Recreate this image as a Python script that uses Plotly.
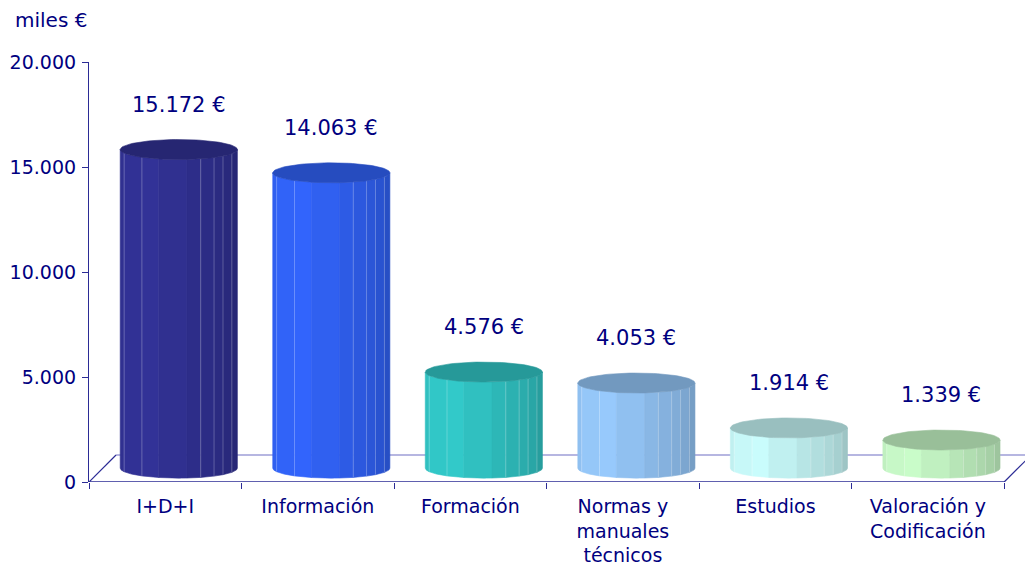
import numpy as np
import plotly.graph_objects as go

# ---------------- data ----------------
categories = ["I+D+I", "Información", "Formación", "Normas y<br>manuales<br>técnicos",
              "Estudios", "Valoración y<br>Codificación"]
values = [15172, 14063, 4576, 4053, 1914, 1339]
value_labels = [f"{v:,}".replace(",", ".") + " €" for v in values]
bar_colors = ["#333399", "#3366FF", "#33CCCC", "#99CCFF", "#CCFFFF", "#CCFFCC"]
y_ticks = [0, 5000, 10000, 15000, 20000]
unit_title = "miles €"

# ---------------- style / geometry (not data) ----------------
NAVY = "#000080"
FONT = "DejaVu Sans"
DEPTH_X = 0.0886      # half depth shift in category units
BASE_Y = 660          # cylinder base centre (value units) due to 3D depth
FLOOR_BACK_Y = 1286
RX = 0.384            # cylinder radius in category units
RY = 476              # ellipse vertical semi-axis in value units
facet_deg = [0, 21, 51, 70, 98, 112, 127, 139, 155, 180]


def shade(hex_color, f):
    h = hex_color.lstrip("#")
    r, g, b = (int(h[i:i + 2], 16) for i in (0, 2, 4))
    return "rgb(%d,%d,%d)" % (min(255, r * f), min(255, g * f), min(255, b * f))


def intensity(theta):
    # theta in degrees, 0 = left silhouette, 180 = right silhouette
    if theta <= 55:
        return 0.93 + 0.07 * theta / 55
    return 1.0 - 0.25 * (theta - 55) / 125


fig = go.Figure()

for i, (v, col) in enumerate(zip(values, bar_colors)):
    cx = i + DEPTH_X
    base = BASE_Y
    top = v + BASE_Y
    # side facets
    for k in range(len(facet_deg) - 1):
        t0, t1 = facet_deg[k], facet_deg[k + 1]
        th = np.radians(np.linspace(t0, t1, 12))
        xs = cx - RX * np.cos(th)
        yb = base - RY * np.sin(th)
        yt = top - RY * np.sin(th)
        px = np.concatenate([xs, xs[::-1], xs[:1]])
        py = np.concatenate([yb, yt[::-1], yb[:1]])
        c = shade(col, intensity((t0 + t1) / 2))
        fig.add_trace(go.Scatter(x=px, y=py, mode="lines", fill="toself",
                                 fillcolor=c, line=dict(color=c, width=0.6),
                                 hoverinfo="skip", showlegend=False))
    # facet edge highlights (stronger on the right-hand side)
    ex, ey = [], []
    for t in facet_deg[1:-1]:
        if 55 < t < 105:
            continue
        tr = np.radians(t)
        x = cx - RX * np.cos(tr)
        ex += [x, x, None]
        ey += [base - RY * np.sin(tr), top - RY * np.sin(tr), None]
    fig.add_trace(go.Scatter(x=ex, y=ey, mode="lines",
                             line=dict(color="rgba(255,255,255,0.25)", width=1),
                             hoverinfo="skip", showlegend=False))
    # top cap
    tt = np.linspace(0, 2 * np.pi, 90)
    capc = shade(col, 0.75)
    fig.add_trace(go.Scatter(x=cx + RX * np.cos(tt), y=top + RY * np.sin(tt),
                             mode="lines", fill="toself", fillcolor=capc,
                             line=dict(color=capc, width=0.6),
                             hoverinfo="skip", showlegend=False))
    # value label
    fig.add_annotation(x=cx, y=top + RY, xref="x", yref="y", text=value_labels[i],
                       showarrow=False, yanchor="middle", yshift=35,
                       font=dict(family=FONT, size=21, color=NAVY))

n = len(categories)
x_left, x_right = -0.5, n - 0.5
dxb = 2 * DEPTH_X
shapes = [
    # floor back edge and sides
    dict(type="line", x0=x_left + dxb, y0=FLOOR_BACK_Y, x1=x_right + dxb, y1=FLOOR_BACK_Y,
         line=dict(color="#6F6FC4", width=1.2), layer="below"),
    dict(type="line", x0=x_left, y0=0, x1=x_left + dxb, y1=FLOOR_BACK_Y,
         line=dict(color="#2B2B95", width=1.2), layer="below"),
    dict(type="line", x0=x_right, y0=0, x1=x_right + dxb, y1=FLOOR_BACK_Y,
         line=dict(color="#2B2B95", width=1.2), layer="below"),
    # front axis line
    dict(type="line", x0=x_left, y0=0, x1=x_right, y1=0,
         line=dict(color="#2B2B95", width=1.5), layer="above"),
]

# the page body has an 8px default margin, so the figure is sized to compensate
fig.update_layout(
    width=1025, height=566,
    margin=dict(l=81, r=1, t=54, b=92, pad=0),
    paper_bgcolor="white", plot_bgcolor="white",
    separators=",.",
    shapes=shapes,
    font=dict(family=FONT, color=NAVY, size=19),
    xaxis=dict(range=[x_left, x_right + dxb + 0.005], tickvals=list(range(n)),
               ticktext=categories, showgrid=False, zeroline=False, showline=False,
               ticks="", ticklabelstandoff=11,
               tickfont=dict(family=FONT, size=19, color=NAVY),
               minor=dict(tick0=-0.5, dtick=1, ticks="outside", ticklen=6,
                          tickcolor="#2B2B95", tickwidth=1, showgrid=False)),
    yaxis=dict(range=[0, 20000], tickvals=y_ticks, tickformat=",d",
               showgrid=False, zeroline=False, showline=True, linecolor="#2B2B95",
               linewidth=1.2, ticks="outside", ticklen=6, tickcolor="#2B2B95",
               ticklabelstandoff=2,
               tickfont=dict(family=FONT, size=19, color=NAVY)),
    showlegend=False,
)
fig.add_annotation(xref="paper", yref="paper", x=(13 - 89) / 943, y=1 + (62 - 20) / 420,
                   xanchor="left", yanchor="middle", text=unit_title, showarrow=False,
                   font=dict(family=FONT, size=20, color=NAVY))

fig.write_html("out.html")
